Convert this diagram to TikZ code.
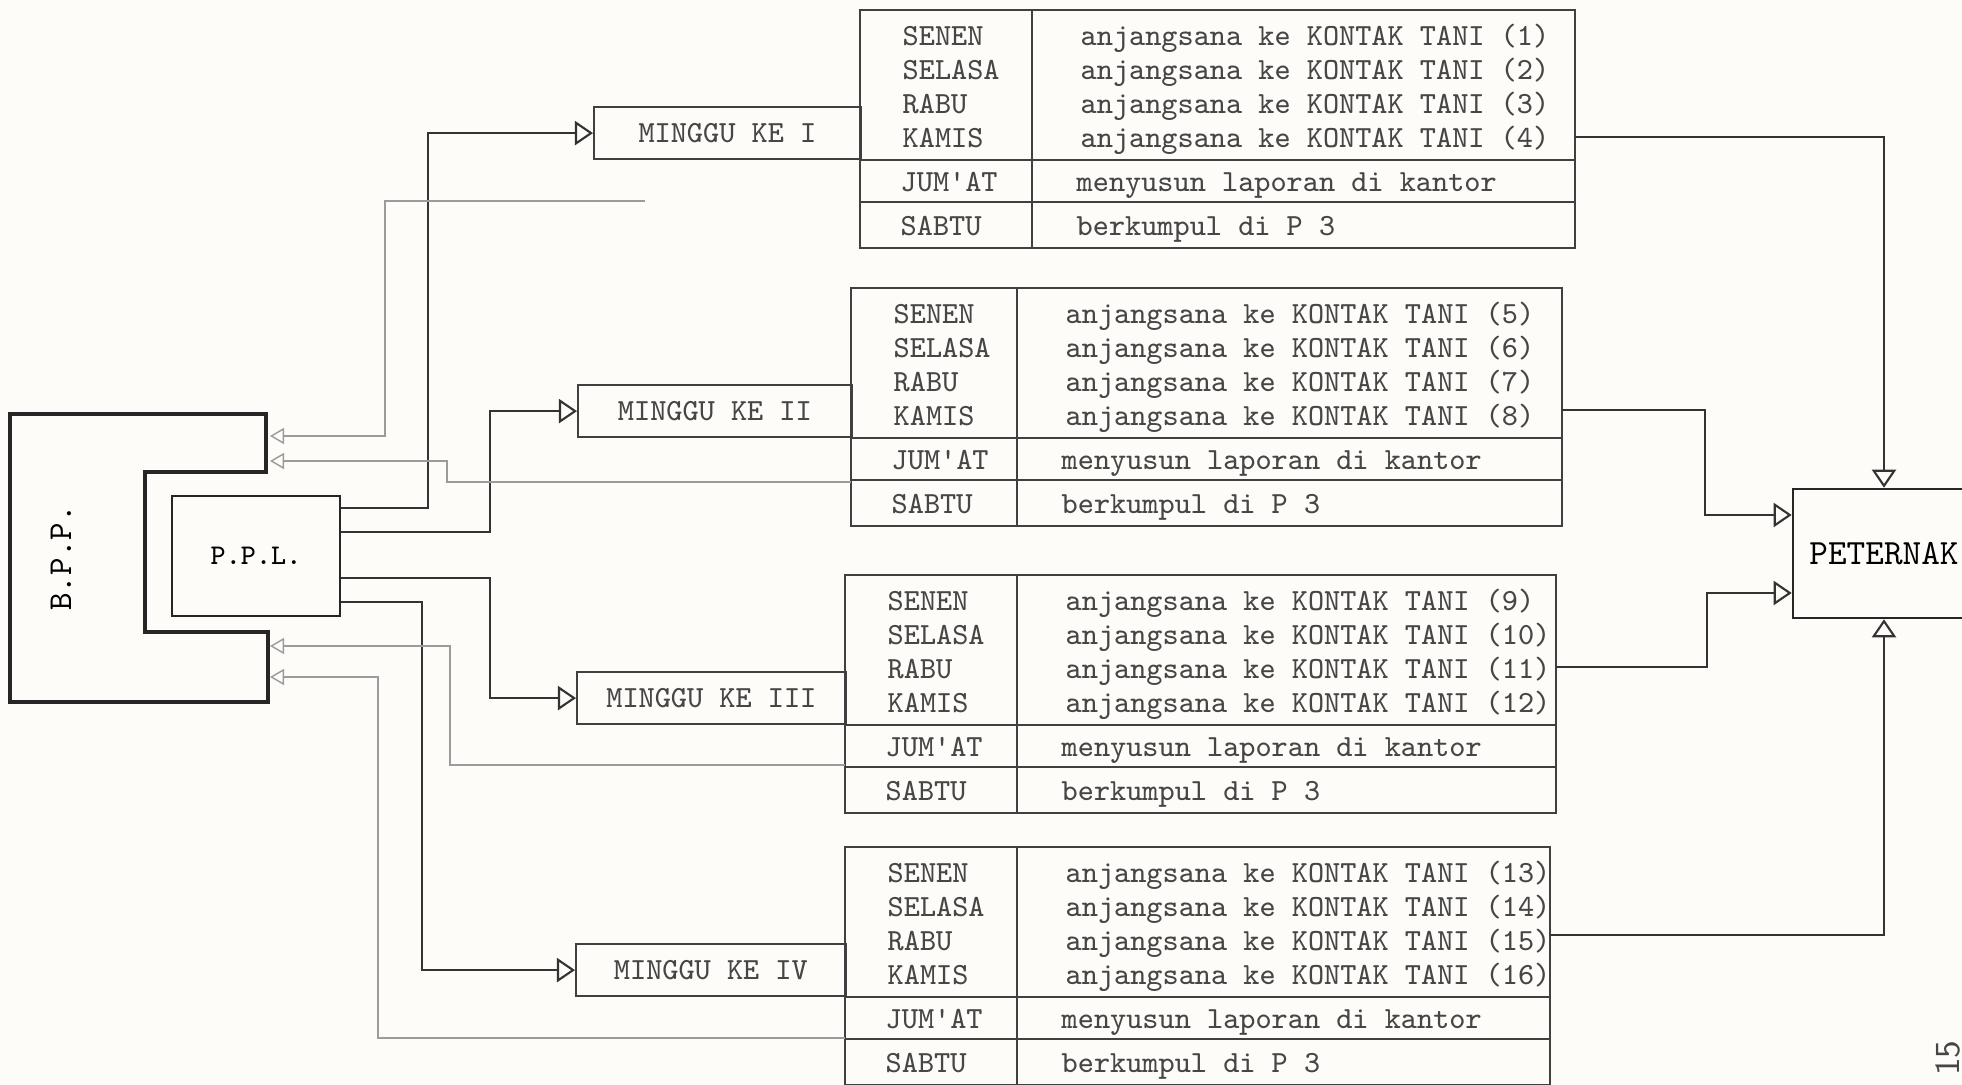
\documentclass[tikz,border=0pt]{standalone}
\usepackage{fontspec}
\usepackage{tikz}
\usetikzlibrary{arrows.meta}
\definecolor{paper}{RGB}{253,252,248}
\definecolor{ink}{RGB}{70,70,70}
\definecolor{pencil}{RGB}{155,155,155}

\begin{document}
\begin{tikzpicture}[x=0.01cm, y=-0.01cm,
    tabline/.style={draw=black!75, line width=0.5pt},
    cell/.style={anchor=mid west, inner sep=0pt, text=ink, font=\ttfamily\fontsize{8.75}{10}\selectfont},
    weekbox/.style={draw=black!75, line width=0.5pt, inner sep=0pt, text=ink, font=\ttfamily\fontsize{8.75}{10}\selectfont},
    unitbox/.style={draw=black!85, line width=0.7pt, inner sep=0pt, font=\ttfamily\fontsize{8.1}{10}\selectfont},
    bppline/.style={draw=black!85, line width=1.2pt},
    flow/.style={draw=black!80, line width=0.6pt, -{Triangle[open, length=0.18cm, width=0.24cm]}},
    fback/.style={draw=pencil, line width=0.4pt, -{Triangle[open, length=0.14cm, width=0.16cm]}}
  ]
  \useasboundingbox (0,0) rectangle (1962,1085);
  \fill[paper] (0,0) rectangle (1962,1085);

  % B.P.P. and P.P.L.
  \draw[bppline] (10,414) -- (266,414) -- (266,472) -- (145,472) -- (145,632)
    -- (268,632) -- (268,702) -- (10,702) -- cycle;
  \node[rotate=90, font=\ttfamily\fontsize{9.5}{10}\selectfont] (bpp) at (61,558) {B.P.P.};
  \node[unitbox, minimum width=1.68cm, minimum height=1.2cm] (ppl) at (256,556) {P.P.L.};
  \coordinate (in1) at (270,436);
  \coordinate (in2) at (270,461);
  \coordinate (in3) at (270,646);
  \coordinate (in4) at (270,677);

  % weekly tables
  \foreach \ty/\lft/\rgt/\cs/\ml/\wk/\nz/\oy [count=\tn] in
    {10/860/1575/1032/593/I/0/127, 288/851/1562/1017/577/II/4/122,
     575/845/1556/1017/576/III/8/92, 847/845/1550/1017/575/IV/12/88} {
    \draw[tabline] (\lft,\ty) rectangle (\rgt,\ty+238);
    \draw[tabline] (\lft,\ty+150) -- (\rgt,\ty+150);
    \draw[tabline] (\lft,\ty+192) -- (\rgt,\ty+192);
    \draw[tabline] (\cs,\ty) -- (\cs,\ty+238);
    \pgfmathsetlengthmacro\bw{(\lft-\ml)*0.01cm}
    \node[weekbox, minimum width=\bw, minimum height=0.52cm, anchor=south west]
      (w\tn) at (\ml,\ty+150) {MINGGU KE \wk};
    \foreach \k/\dn in {1/SENEN, 2/SELASA, 3/RABU, 4/KAMIS} {
      \pgfmathtruncatemacro\num{\nz+\k}
      \node[cell] (d\tn-\k) at (\lft+42,\ty+28+34*\k-34) {\dn};
      \node[cell] (a\tn-\k) at (\cs+48,\ty+28+34*\k-34) {anjangsana ke KONTAK TANI (\num)};
    }
    \node[cell] (d\tn-5) at (\lft+40,\ty+174) {JUM\textquotesingle AT};
    \node[cell] (a\tn-5) at (\cs+44,\ty+174) {menyusun laporan di kantor};
    \node[cell] (d\tn-6) at (\lft+40,\ty+218) {SABTU};
    \node[cell] (a\tn-6) at (\cs+44,\ty+218) {berkumpul di P 3};
    \coordinate (o\tn) at (\rgt,\ty+\oy);
  }

  % PETERNAK
  \node[unitbox, minimum width=1.82cm, minimum height=1.29cm,
    font=\ttfamily\fontsize{10.1}{11}\selectfont] (pet) at (1884,553.5) {PETERNAK};
  \coordinate (k2) at (1705,515);
  \coordinate (k3) at (1707,593);

  % P.P.L. to the weeks
  \draw[flow] (ppl.east |- 0,508) -- (428,508) |- (w1.west);
  \draw[flow] (ppl.east |- 0,532) -- (490,532) |- (w2.west);
  \draw[flow] (ppl.east |- 0,578) -- (490,578) |- (w3.west);
  \draw[flow] (ppl.east |- 0,602) -- (422,602) |- (w4.west);

  % reports back to B.P.P.
  \coordinate (f1) at (645,201);
  \coordinate (f2) at (851,482);
  \coordinate (f3) at (845,765);
  \coordinate (f4) at (845,1038);
  \draw[fback] (f1) -- (f1 -| 385,0) |- (in1);
  \draw[fback] (f2) -- (f2 -| 447,0) |- (in2);
  \draw[fback] (f3) -- (f3 -| 450,0) |- (in3);
  \draw[fback] (f4) -- (f4 -| 378,0) |- (in4);

  % weeks to PETERNAK
  \draw[flow] (o1) -| (pet.north);
  \draw[flow] (o2) -| (k2) -- (k2 -| pet.west);
  \draw[flow] (o3) -| (k3) -- (k3 -| pet.west);
  \draw[flow] (o4) -| (pet.south);

  \node[rotate=90, text=ink, font=\sffamily\fontsize{10}{11}\selectfont] (pg) at (1948,1058) {15};
\end{tikzpicture}
\end{document}
